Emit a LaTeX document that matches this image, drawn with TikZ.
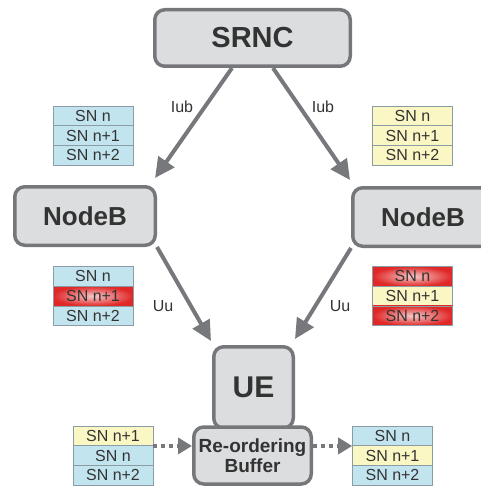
\documentclass[tikz,border=0pt]{standalone}
\usepackage{fontspec}
\setmainfont{Liberation Sans}
\usetikzlibrary{arrows.meta}
\usetikzlibrary{backgrounds}
\definecolor{boxgray}{HTML}{DCDDDF}
\definecolor{edgegray}{HTML}{75777A}
\definecolor{arrgray}{HTML}{77787C}
\definecolor{textgray}{HTML}{333333}
\definecolor{sngray}{HTML}{8C9CA4}
\definecolor{snblue}{HTML}{C2E4EE}
\definecolor{snyellow}{HTML}{FAF7C4}
\definecolor{snred}{HTML}{E02828}

\begin{document}
\begin{tikzpicture}[x=1pt,y=-1pt,
    box/.style={draw=edgegray,fill=boxgray,line width=3.5pt,rounded corners=10pt,inner sep=0pt,
      text=textgray,font=\bfseries\fontsize{26}{28}\selectfont},
    sn/.style={draw=sngray,line width=0.6pt,minimum width=80pt,minimum height=19.7pt,inner sep=0pt,
      text=textgray,font=\fontsize{16}{18}\selectfont},
    snb/.style={sn,fill=snblue},
    sny/.style={sn,fill=snyellow},
    snr/.style={sn,inner color=snred!25!white,outer color=snred},
    link/.style={draw=arrgray,line width=4pt,-{Triangle[length=20pt,width=19pt]}},
    dotlink/.style={draw=arrgray,line width=4pt,dash pattern=on 4pt off 4pt,-{Triangle[length=14pt,width=16pt]}},
    lbl/.style={text=textgray,font=\fontsize{16}{18}\selectfont}]
  \clip (0,0) rectangle (481,487);
  \node[box,minimum width=195.5pt,minimum height=56.5pt,font=\bfseries\fontsize{29}{30}\selectfont] (srnc) at (252.5,38) {SRNC};
  \node[box,minimum width=140.5pt,minimum height=58.5pt] (nbl) at (85,216) {NodeB};
  \node[box,minimum width=140.5pt,minimum height=58.5pt] (nbr) at (423,217) {NodeB};
  \node[box,minimum width=79.5pt,minimum height=81.5pt,font=\bfseries\fontsize{30}{32}\selectfont] (ue) at (253.5,387.5) {UE};
  \node[box,minimum width=117.5pt,minimum height=57pt,align=center,font=\bfseries\fontsize{19}{20}\selectfont] (buf) at (252.5,455.5) {Re-ordering\\Buffer};

  \node[snb] (lt1) at (93,115.8) {SN n};
  \node[snb] (lt2) at (93,135.5) {SN n+1};
  \node[snb] (lt3) at (93,155.2) {SN n+2};
  \node[sny] (rt1) at (412.5,115.8) {SN n};
  \node[sny] (rt2) at (412.5,135.5) {SN n+1};
  \node[sny] (rt3) at (412.5,155.2) {SN n+2};

  \node[snb] (lm1) at (93,276.3) {SN n};
  \node[snr] (lm2) at (93,296) {SN n+1};
  \node[snb] (lm3) at (93,315.7) {SN n+2};
  \node[snr] (rm1) at (412.5,276.3) {SN n};
  \node[sny] (rm2) at (412.5,296) {SN n+1};
  \node[snr] (rm3) at (412.5,315.7) {SN n+2};

  \node[sny] (bl1) at (113,435.8) {SN n+1};
  \node[snb] (bl2) at (113,455.5) {SN n};
  \node[snb] (bl3) at (113,475.2) {SN n+2};
  \node[snb] (br1) at (392.5,435.8) {SN n};
  \node[sny] (br2) at (392.5,455.5) {SN n+1};
  \node[snb] (br3) at (392.5,475.2) {SN n+2};

  \node[lbl] (iubl) at (182,107) {Iub};
  \node[lbl] (iubr) at (323,107) {Iub};
  \node[lbl] (uul) at (163,306) {Uu};
  \node[lbl] (uur) at (340,306) {Uu};

  \begin{scope}[on background layer]
    \draw[link] ([xshift=-20.5pt]srnc.south) -- ([shift={(-2pt,7pt)}]nbl.north east);
    \draw[link] ([xshift=20.5pt]srnc.south) -- ([shift={(-1pt,6pt)}]nbr.north west);
    \draw[link] (nbl.south east) -- ([shift={(-1pt,4pt)}]ue.north west);
    \draw[link] (nbr.south west) -- ([shift={(0pt,6pt)}]ue.north east);
  \end{scope}
  \draw[dotlink] (bl1.south east) -- (bl1.south east -| buf.west);
  \draw[dotlink] (buf.east |- br1.south west) -- (br1.south west);
\end{tikzpicture}
\end{document}
